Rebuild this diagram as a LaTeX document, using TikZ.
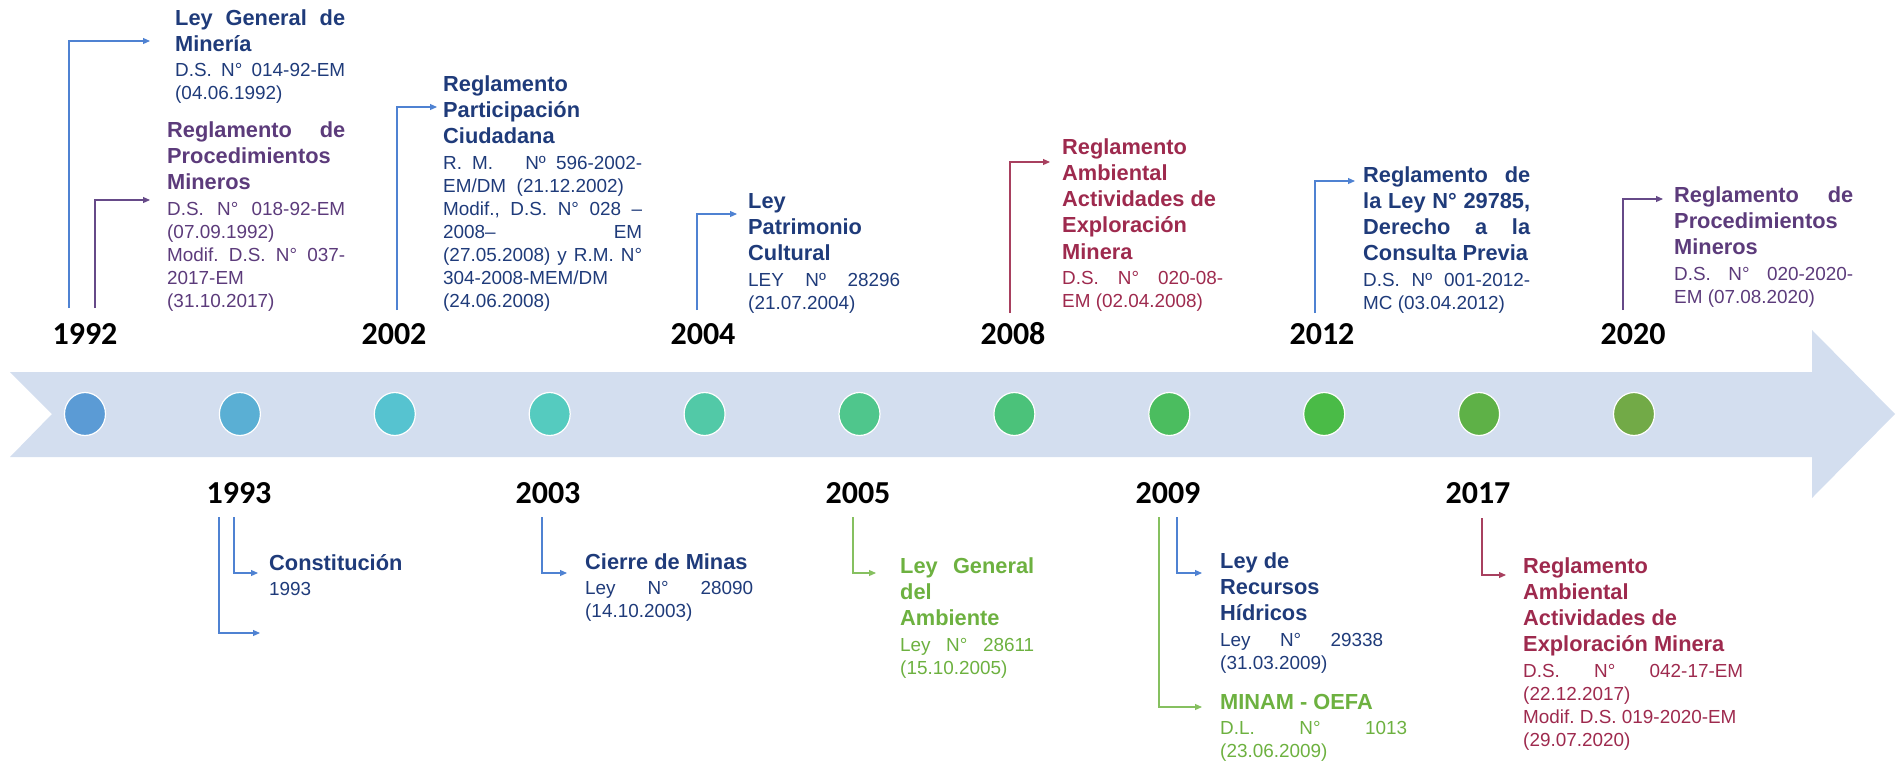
\documentclass[tikz,border=0pt]{standalone}
\usepackage{fontspec}
\setmainfont{Liberation Sans}
\newfontfamily\yearfont{Carlito}
\usetikzlibrary{arrows.meta,shapes.geometric}
\definecolor{navy}{HTML}{1F3B7A}
\definecolor{purp}{HTML}{5C3B7B}
\definecolor{wine}{HTML}{9E2A4E}
\definecolor{leaf}{HTML}{6DB140}
\definecolor{lblue}{HTML}{4F82D2}
\definecolor{lpurp}{HTML}{664A88}
\definecolor{lwine}{HTML}{A8405F}
\definecolor{lleaf}{HTML}{86C060}
\definecolor{bandc}{HTML}{D3DEEF}
\definecolor{ca}{HTML}{5B9BD5}
\definecolor{cb}{HTML}{5AAFD4}
\definecolor{cc}{HTML}{56C3D0}
\definecolor{cd}{HTML}{55CBBF}
\definecolor{ce}{HTML}{52C9A7}
\definecolor{cf}{HTML}{4FC68C}
\definecolor{cg}{HTML}{4BC27A}
\definecolor{ch}{HTML}{4BBD5F}
\definecolor{ci}{HTML}{4ABB47}
\definecolor{cj}{HTML}{5EB147}
\definecolor{ck}{HTML}{72AA47}
\newcommand\JL[2]{\leavevmode\hbox to #1pt{\spaceskip=.278em plus 30em\relax #2}}
\newcommand\TT[1]{{\bfseries\fontsize{21.8}{26.3}\selectfont\spaceskip=.278em plus .1em\relax#1\par}}
\newcommand\RR[1]{{\vspace{2.5pt}\fontsize{18.9}{23}\selectfont\spaceskip=.278em plus .1em\relax#1\par}}
\tikzset{
  blk/.style={anchor=base west, inner sep=0pt, text width=#1pt},
  yr/.style={font=\yearfont\bfseries\fontsize{32}{38}\selectfont, inner sep=0pt, text=black},
  dot/.style={ellipse, minimum width=41pt, minimum height=43pt, inner sep=0pt, draw=white, line width=1.2pt},
  con/.style={line width=1.1pt, -{Triangle[length=7pt,width=6pt]}},
}
\begin{document}
\frenchspacing
\begin{tikzpicture}[x=1pt,y=-1pt]
\useasboundingbox (0,0) rectangle (1899,764);
% band arrow
\fill[bandc] (10,372) -- (1812,372) -- (1812,330) -- (1895,414) -- (1812,498) -- (1812,457) -- (10,457) -- (52,414) -- cycle;
% dots
\foreach \i/\c in {0/ca,1/cb,2/cc,3/cd,4/ce,5/cf,6/cg,7/ch,8/ci,9/cj,10/ck}
  \node[dot, fill=\c] (d\i) at ({85+154.9*\i},414) {};
% years above
\node[yr] (y1992) at (85,334) {1992};
\node[yr] (y2002) at (394,334) {2002};
\node[yr] (y2004) at (703,334) {2004};
\node[yr] (y2008) at (1013,334) {2008};
\node[yr] (y2012) at (1322,334) {2012};
\node[yr] (y2020) at (1633,334) {2020};
% years below
\node[yr] (y1993) at (239,493) {1993};
\node[yr] (y2003) at (548,493) {2003};
\node[yr] (y2005) at (858,493) {2005};
\node[yr] (y2009) at (1168,493) {2009};
\node[yr] (y2017) at (1478,493) {2017};
% text blocks above
\node[blk=210, text=navy] (tA) at (175,25) {\TT{\JL{170}{Ley General de}\\Minería}\RR{\JL{170}{D.S. N° 014-92-EM}\\(04.06.1992)}};
\node[blk=218, text=purp] (tB) at (167,137) {\TT{\JL{178}{Reglamento de}\\Procedimientos\\Mineros}\RR{\JL{178}{D.S. N° 018-92-EM}\\(07.09.1992)\\\JL{178}{Modif. D.S. N° 037-}\\2017-EM\\(31.10.2017)}};
\node[blk=239, text=navy] (tC) at (443,91) {\TT{Reglamento\\Participación\\Ciudadana}\RR{\JL{199}{R. M.\hspace{22pt} Nº 596-2002-}\\EM/DM\ \ (21.12.2002)\\\JL{199}{Modif., D.S. N° 028 –}\\\JL{199}{2008– EM}\\\JL{199}{(27.05.2008) y R.M. N°}\\304-2008-MEM/DM\\(24.06.2008)}};
\node[blk=192, text=navy] (tD) at (748,208) {\TT{Ley\\Patrimonio\\Cultural}\RR{\JL{152}{LEY Nº 28296}\\(21.07.2004)}};
\node[blk=201, text=wine] (tE) at (1062,154) {\TT{Reglamento\\Ambiental\\Actividades de\\Exploración\\Minera}\RR{\JL{161}{D.S. N° 020-08-}\\EM (02.04.2008)}};
\node[blk=207, text=navy] (tF) at (1363,182) {\TT{\JL{167}{Reglamento de}\\\JL{167}{la Ley N° 29785,}\\\JL{167}{Derecho a la}\\Consulta Previa}\RR{\JL{167}{D.S. Nº 001-2012-}\\MC (03.04.2012)}};
\node[blk=219, text=purp] (tG) at (1674,202) {\TT{\JL{179}{Reglamento de}\\Procedimientos\\Mineros}\RR{\JL{179}{D.S. N° 020-2020-}\\EM (07.08.2020)}};
% text blocks below
\node[blk=200, text=navy] (tH) at (269,570) {\TT{Constitución}\RR{1993}};
\node[blk=208, text=navy] (tI) at (585,569) {\TT{Cierre de Minas}\RR{\JL{168}{Ley N° 28090}\\(14.10.2003)}};
\node[blk=174, text=leaf] (tJ) at (900,573) {\TT{\JL{134}{Ley General}\\del\\Ambiente}\RR{\JL{134}{Ley N° 28611}\\(15.10.2005)}};
\node[blk=203, text=navy] (tK) at (1220,568) {\TT{Ley de\\Recursos\\Hídricos}\RR{\JL{163}{Ley N° 29338}\\(31.03.2009)}};
\node[blk=227, text=leaf] (tL) at (1220,709) {\TT{MINAM - OEFA}\RR{\JL{187}{D.L. N° 1013}\\(23.06.2009)}};
\node[blk=260, text=wine] (tM) at (1523,573) {\TT{Reglamento\\Ambiental\\Actividades de\\Exploración\ Minera}\RR{\JL{220}{D.S. N° 042-17-EM}\\(22.12.2017)\\Modif. D.S. 019-2020-EM\\(29.07.2020)}};
% connector endpoints
\coordinate (sA) at (69,308);   \coordinate (eA) at (150,41);
\coordinate (sB) at (95,308);   \coordinate (eB) at (150,200);
\coordinate (sC) at (397,310);  \coordinate (eC) at (437,107);
\coordinate (sD) at (697,310);  \coordinate (eD) at (737,214);
\coordinate (sE) at (1010,313); \coordinate (eE) at (1050,162);
\coordinate (sF) at (1315,313); \coordinate (eF) at (1355,181);
\coordinate (sG) at (1623,310); \coordinate (eG) at (1663,199);
\coordinate (sH) at (219,517);  \coordinate (eH) at (260,633);
\coordinate (sH2) at (234,517); \coordinate (eH2) at (258,573);
\coordinate (sI) at (542,517);  \coordinate (eI) at (567,573);
\coordinate (sJ) at (853,517);  \coordinate (eJ) at (876,573);
\coordinate (sL) at (1159,517); \coordinate (eL) at (1202,707);
\coordinate (sK) at (1177,517); \coordinate (eK) at (1202,573);
\coordinate (sM) at (1482,518); \coordinate (eM) at (1506,575);
% connectors
\draw[con, lblue] (sA) |- (eA);
\draw[con, lpurp] (sB) |- (eB);
\draw[con, lblue] (sC) |- (eC);
\draw[con, lblue] (sD) |- (eD);
\draw[con, lwine] (sE) |- (eE);
\draw[con, lblue] (sF) |- (eF);
\draw[con, lpurp] (sG) |- (eG);
\draw[con, lblue] (sH) |- (eH);
\draw[con, lblue] (sH2) |- (eH2);
\draw[con, lblue] (sI) |- (eI);
\draw[con, lleaf] (sJ) |- (eJ);
\draw[con, lleaf] (sL) |- (eL);
\draw[con, lblue] (sK) |- (eK);
\draw[con, lwine] (sM) |- (eM);
\end{tikzpicture}
\end{document}
